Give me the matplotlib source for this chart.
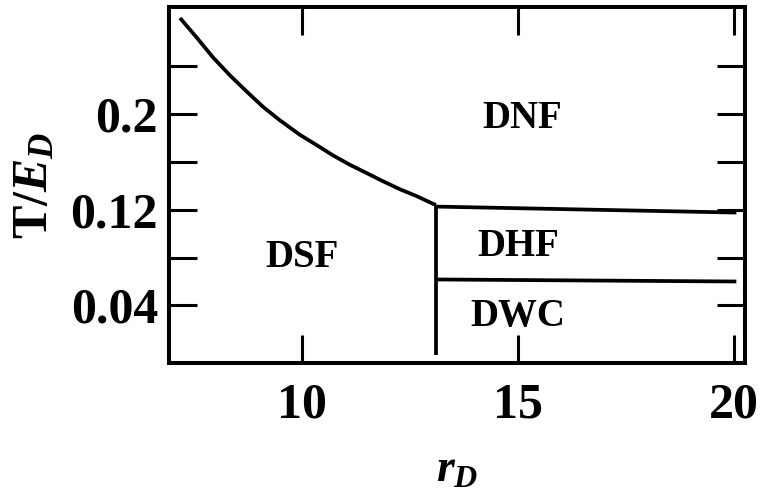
import matplotlib.pyplot as plt

plt.rcParams['font.family'] = 'Liberation Serif'
plt.rcParams['font.weight'] = 'bold'
plt.rcParams['mathtext.fontset'] = 'custom'
plt.rcParams['mathtext.rm'] = 'Liberation Serif:bold'
plt.rcParams['mathtext.bf'] = 'Liberation Serif:bold'
plt.rcParams['mathtext.it'] = 'Liberation Serif:italic:bold'

# DSF / DNF boundary
curve_r = [7.175, 7.568, 7.939, 8.332, 8.726, 9.096, 9.489, 9.952, 10.346,
           10.716, 11.11, 11.503, 11.874, 12.267, 12.66, 13.031, 13.1]
curve_t = [0.2798, 0.2632, 0.2469, 0.2319, 0.2182, 0.2057, 0.1944, 0.1823, 0.1736,
           0.1652, 0.1573, 0.1503, 0.1436, 0.1369, 0.1311, 0.1248, 0.1240]

# vertical DSF boundary
wall_r = [13.1, 13.1]
wall_t = [0.124, -0.001]

# DNF / DHF boundary
upper_r = [13.1, 20.05]
upper_t = [0.1225, 0.1175]

# DHF / DWC boundary
lower_r = [13.1, 20.05]
lower_t = [0.0617, 0.0600]

phases = ["DNF", "DSF", "DHF", "DWC"]
phase_r = [15.1, 10.0, 15.0, 15.0]
phase_t = [0.196, 0.080, 0.089, 0.031]

xticks = [10, 15, 20]
yticks = [0.04, 0.08, 0.12, 0.16, 0.2, 0.24]
ylabels = ["0.04", "", "0.12", "", "0.2", ""]

fig = plt.figure(figsize=(7.63, 4.99), dpi=100)
ax = fig.add_axes([0.2215, 0.2725, 0.7549, 0.7135])

lw = 2.7
for r, t in [(curve_r, curve_t), (wall_r, wall_t), (upper_r, upper_t), (lower_r, lower_t)]:
    ax.plot(r, t, color='black', lw=lw, solid_capstyle='butt', solid_joinstyle='round')

for name, r, t in zip(phases, phase_r, phase_t):
    ax.text(r, t, name, fontsize=28, fontweight='bold', ha='center', va='center')

ax.set_xlim(6.92, 20.25)
ax.set_ylim(-0.008, 0.289)
ax.set_xticks(xticks)
ax.set_xticklabels([str(v) for v in xticks])
ax.set_yticks(yticks)
ax.set_yticklabels(ylabels)

ax.tick_params(axis='both', direction='in', length=20, width=2.2,
               top=True, right=True, labelsize=36)
ax.tick_params(axis='x', pad=14)
ax.tick_params(axis='y', pad=8)
for lab in ax.get_xticklabels() + ax.get_yticklabels():
    lab.set_fontweight('bold')
for sp in ax.spines.values():
    sp.set_linewidth(2.9)

ax.set_xlabel(r'$\mathit{r_D}$', fontsize=33, labelpad=15)
ax.set_ylabel(r'$\mathrm{T/}\mathit{E_D}$', fontsize=36, labelpad=9)

fig.savefig('out.png', dpi=100)
